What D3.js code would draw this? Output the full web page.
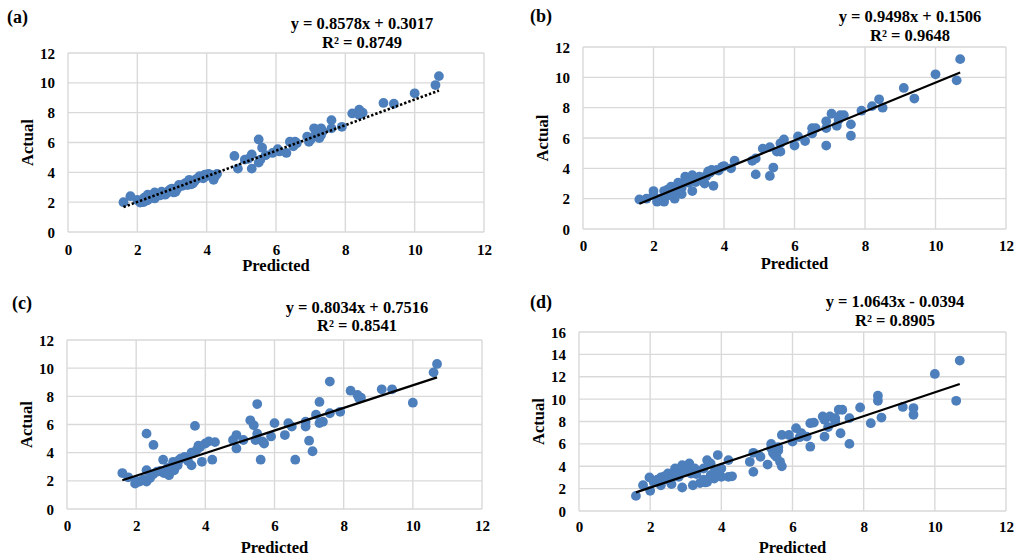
<!DOCTYPE html>
<html><head><meta charset="utf-8">
<script src="https://cdn.jsdelivr.net/npm/d3@7"></script>
<style>
body{margin:0;background:#fff}
svg{display:block}
text{font-family:"Liberation Serif","Times New Roman",serif;font-weight:bold;fill:#000}
</style>
</head><body>
<svg id="chart" width="1015" height="560"></svg>
<script>
// ---------- data ----------
const xTicks = [0, 2, 4, 6, 8, 10, 12];
const yTicksA = [0, 2, 4, 6, 8, 10, 12];
const yTicksD = [0, 2, 4, 6, 8, 10, 12, 14, 16];
const panelLabels = ["(a)", "(b)", "(c)", "(d)"];
const equations = ["y = 0.8578x + 0.3017", "y = 0.9498x + 0.1506", "y = 0.8034x + 0.7516", "y = 1.0643x - 0.0394"];
const r2Labels = ["R² = 0.8749", "R² = 0.9648", "R² = 0.8541", "R² = 0.8905"];
const slopes = [0.8578, 0.9498, 0.8034, 1.0643];
const intercepts = [0.3017, 0.1506, 0.7516, -0.0394];
const xTitle = "Predicted";
const yTitle = "Actual";

const predA = [1.6,1.8,2.0,2.08,2.17,2.2,2.3,2.3,2.4,2.5,2.5,2.6,2.7,2.8,2.9,2.95,3.0,3.05,3.1,3.2,3.3,3.4,3.5,3.55,3.6,3.65,3.7,3.8,3.9,4.0,4.05,4.1,4.2,4.3,
  2.25,2.45,2.65,2.85,3.15,3.35,3.45,3.75,3.95,4.25,
  4.8,4.9,5.1,5.2,5.3,5.3,5.5,5.5,5.55,5.6,5.7,5.9,6.05,6.1,6.3,6.4,6.5,6.55,6.6,6.9,6.95,7.0,7.1,7.15,7.2,7.25,7.3,7.3,7.35,7.6,7.6,7.9,8.2,8.4,8.4,8.5,9.1,9.4,10.0,10.6,10.7];
const actA = [2.0,2.4,2.15,1.97,2.0,2.3,2.5,2.15,2.45,2.65,2.25,2.55,2.7,2.5,2.75,2.85,2.9,2.65,2.7,3.15,3.1,3.3,3.5,3.2,3.25,3.4,3.55,3.75,3.6,3.75,3.9,3.85,3.5,3.9,
  2.1,2.3,2.45,2.6,2.9,3.2,3.15,3.6,3.85,3.75,
  5.1,4.25,4.85,4.9,5.2,4.25,6.2,4.65,4.85,5.65,5.15,5.3,5.55,5.4,5.3,6.05,5.75,6.05,5.95,6.4,6.05,6.2,6.95,6.6,6.4,6.3,6.95,6.5,6.75,7.5,6.95,7.05,7.95,8.2,7.85,8.0,8.65,8.6,9.3,9.85,10.45];

const predB = [1.6,1.8,2.0,2.0,2.1,2.2,2.3,2.3,2.4,2.5,2.6,2.6,2.7,2.8,2.8,2.9,3.0,3.1,3.1,3.2,3.3,3.45,3.55,3.65,3.7,3.85,3.95,4.0,4.2,4.3,
  2.4,2.5,2.7,2.9,3.0,3.2,3.4,3.5,3.6,3.8,
  4.8,4.9,4.9,5.1,5.3,5.3,5.4,5.5,5.6,5.6,5.7,6.0,6.1,6.3,6.5,6.5,6.6,6.9,6.9,6.9,7.05,7.2,7.25,7.3,7.4,7.6,7.6,7.9,8.2,8.4,8.5,9.1,9.4,10.0,10.6,10.7];
const actB = [1.95,2.0,2.5,2.25,1.8,2.0,1.8,2.5,2.6,2.8,2.0,2.35,3.05,2.3,2.7,3.45,3.05,3.55,2.5,3.35,3.45,3.0,3.8,3.9,2.85,3.85,4.1,4.15,4.0,4.5,
  2.2,2.5,2.6,3.1,3.3,3.1,3.4,3.5,3.7,3.9,
  4.5,4.65,3.6,5.3,5.4,3.5,4.05,5.1,5.65,5.1,5.9,5.5,6.1,5.8,6.65,6.3,6.65,7.1,6.65,5.5,7.6,6.8,7.2,7.5,7.5,6.9,6.15,7.8,8.1,8.55,8.0,9.3,8.6,10.2,9.8,11.2];

const predC = [1.6,1.77,1.97,2.1,2.3,2.3,2.5,2.3,2.45,2.6,2.78,2.8,2.9,2.95,3.07,3.1,3.25,3.3,3.4,3.6,3.65,3.7,3.75,3.85,3.9,4.0,4.1,4.2,4.28,
  2.0,2.2,2.4,2.5,2.7,2.9,3.0,3.2,3.5,3.6,3.8,
  4.8,4.9,4.9,5.1,5.3,5.4,5.45,5.5,5.5,5.6,5.65,5.7,5.9,6.0,6.3,6.4,6.5,6.6,6.9,6.9,7.0,7.1,7.2,7.3,7.3,7.4,7.6,7.6,7.9,8.2,8.4,8.45,8.5,9.1,9.4,10.0,10.6,10.7];
const actC = [2.55,2.25,1.8,1.95,1.95,5.35,4.55,2.75,2.4,2.65,3.5,2.55,2.9,2.4,3.35,2.75,3.5,3.6,3.7,3.1,3.95,5.9,4.2,4.4,3.35,4.65,4.8,3.5,4.75,
  2.0,2.1,2.2,2.5,2.7,2.6,3.0,3.1,3.4,4.0,4.5,
  4.9,5.25,4.3,4.9,6.3,5.95,4.9,7.45,5.35,3.5,4.8,4.65,5.15,6.1,5.25,6.1,5.85,3.5,6.2,5.85,4.85,4.1,6.7,7.6,6.1,6.2,9.05,6.8,6.9,8.4,8.1,7.85,7.9,8.5,8.5,7.55,9.7,10.3];

const predD = [1.6,1.8,1.98,2.0,2.1,2.3,2.3,2.5,2.6,2.6,2.7,2.8,2.9,2.9,3.0,3.1,3.15,3.2,3.25,3.4,3.55,3.6,3.6,3.7,3.8,3.9,3.9,3.95,4.0,4.2,4.2,4.3,
  2.2,2.4,2.5,2.7,2.8,3.0,3.3,3.5,3.7,3.8,4.0,3.5,
  4.8,4.9,4.9,5.1,5.3,5.4,5.4,5.45,5.55,5.6,5.65,5.7,5.7,5.9,6.0,6.1,6.25,6.4,6.5,6.5,6.6,6.85,6.9,6.9,7.05,7.2,7.3,7.35,7.4,7.6,7.6,7.9,8.2,8.4,8.4,8.5,9.1,9.4,9.4,10.0,10.6,10.7,
  5.5,5.6,6.2,7.0,7.2];
const actD = [1.35,2.3,3.0,1.8,2.6,3.0,2.3,3.35,3.05,2.4,3.8,3.05,2.1,4.1,3.5,4.25,3.35,2.3,3.8,2.5,2.55,4.55,2.6,4.25,2.9,5.0,3.35,3.65,3.05,4.55,3.05,3.1,
  2.8,3.1,2.8,3.3,3.6,3.9,3.3,3.8,3.2,3.5,3.8,2.8,
  4.4,5.2,3.5,4.85,4.15,6.0,5.6,5.2,4.85,5.4,4.4,4.0,6.8,6.8,6.2,7.4,6.95,6.65,5.75,7.85,7.9,8.45,8.15,6.65,8.45,8.0,9.05,6.95,9.05,8.3,6.0,9.25,7.85,10.3,9.85,8.35,9.3,9.2,8.6,12.25,9.85,13.45,
  5.0,5.7,6.6,7.5,8.3];

const predSets = [predA, predB, predC, predD];
const actSets = [actA, actB, actC, actD];
const yTickSets = [yTicksA, yTicksA, yTicksA, yTicksD];

// ---------- layout ----------
const layouts = [
  {l:68, r:484, t:53, b:232, tx:7, ty:23, ex:362, ey:29, r2y:48, xtY:255, xtitY:271, ytitX:33},
  {l:583, r:1006, t:47, b:229, tx:530, ty:22, ex:910, ey:22, r2y:41, xtY:251, xtitY:269, ytitX:548},
  {l:67, r:482, t:340, b:509, tx:12, ty:309, ex:357, ey:313, r2y:331, xtY:531, xtitY:553, ytitX:32},
  {l:579, r:1006, t:332, b:511, tx:530, ty:308, ex:895, ey:307, r2y:326, xtY:532, xtitY:553, ytitX:544}
];

const svg = d3.select("#chart");
const dotColor = "#4d7fbc";
const gridColor = "#d9d9d9";

layouts.forEach((L, i) => {
  const yT = yTickSets[i];
  const x = d3.scaleLinear().domain([0, 12]).range([L.l, L.r]);
  const y = d3.scaleLinear().domain([0, d3.max(yT)]).range([L.b, L.t]);
  const g = svg.append("g");

  // gridlines
  g.append("g").selectAll("line").data(yT).join("line")
    .attr("x1", L.l).attr("x2", L.r).attr("y1", d => y(d)).attr("y2", d => y(d))
    .attr("stroke", gridColor).attr("stroke-width", 1.4);
  g.append("g").selectAll("line").data(xTicks).join("line")
    .attr("y1", L.t).attr("y2", L.b).attr("x1", d => x(d)).attr("x2", d => x(d))
    .attr("stroke", gridColor).attr("stroke-width", 1.4);

  // axes (labels only)
  const xa = g.append("g").attr("transform", `translate(0,${L.b})`)
    .call(d3.axisBottom(x).tickValues(xTicks).tickSize(0).tickFormat(d3.format("d")));
  xa.select(".domain").remove();
  xa.selectAll("text").attr("y", L.xtY - L.b).attr("dy", null)
    .style("font-size", "15px").style("font-family", '"Liberation Serif",serif').style("font-weight", "bold");
  const ya = g.append("g").attr("transform", `translate(${L.l},0)`)
    .call(d3.axisLeft(y).tickValues(yT).tickSize(0).tickPadding(13).tickFormat(d3.format("d")));
  ya.select(".domain").remove();
  ya.selectAll("text").attr("dy", "0.34em")
    .style("font-size", "15px").style("font-family", '"Liberation Serif",serif').style("font-weight", "bold");

  // points
  const pts = predSets[i].map((p, k) => [p, actSets[i][k]]);
  g.append("g").selectAll("circle").data(pts).join("circle")
    .attr("cx", d => x(d[0])).attr("cy", d => y(d[1])).attr("r", 4.9)
    .attr("fill", dotColor);

  // trendline
  const xs = d3.extent(predSets[i]);
  const line = g.append("line")
    .attr("x1", x(xs[0])).attr("y1", y(slopes[i] * xs[0] + intercepts[i]))
    .attr("x2", x(xs[1])).attr("y2", y(slopes[i] * xs[1] + intercepts[i]))
    .attr("stroke", "#000");
  if (i === 0) line.attr("stroke-width", 2.6).attr("stroke-dasharray", "2.4 2");
  else line.attr("stroke-width", 2.2);

  // texts
  g.append("text").attr("x", L.tx).attr("y", L.ty).style("font-size", "18px").text(panelLabels[i]);
  g.append("text").attr("x", L.ex).attr("y", L.ey).attr("text-anchor", "middle").style("font-size", "16.5px").text(equations[i]);
  g.append("text").attr("x", L.ex).attr("y", L.r2y).attr("text-anchor", "middle").style("font-size", "16.5px").text(r2Labels[i]);
  g.append("text").attr("x", (L.l + L.r) / 2).attr("y", L.xtitY).attr("text-anchor", "middle").style("font-size", "16.5px").text(xTitle);
  g.append("text").attr("transform", `translate(${L.ytitX},${(L.t + L.b) / 2}) rotate(-90)`)
    .attr("text-anchor", "middle").style("font-size", "16.5px").text(yTitle);
});
</script>
</body></html>
